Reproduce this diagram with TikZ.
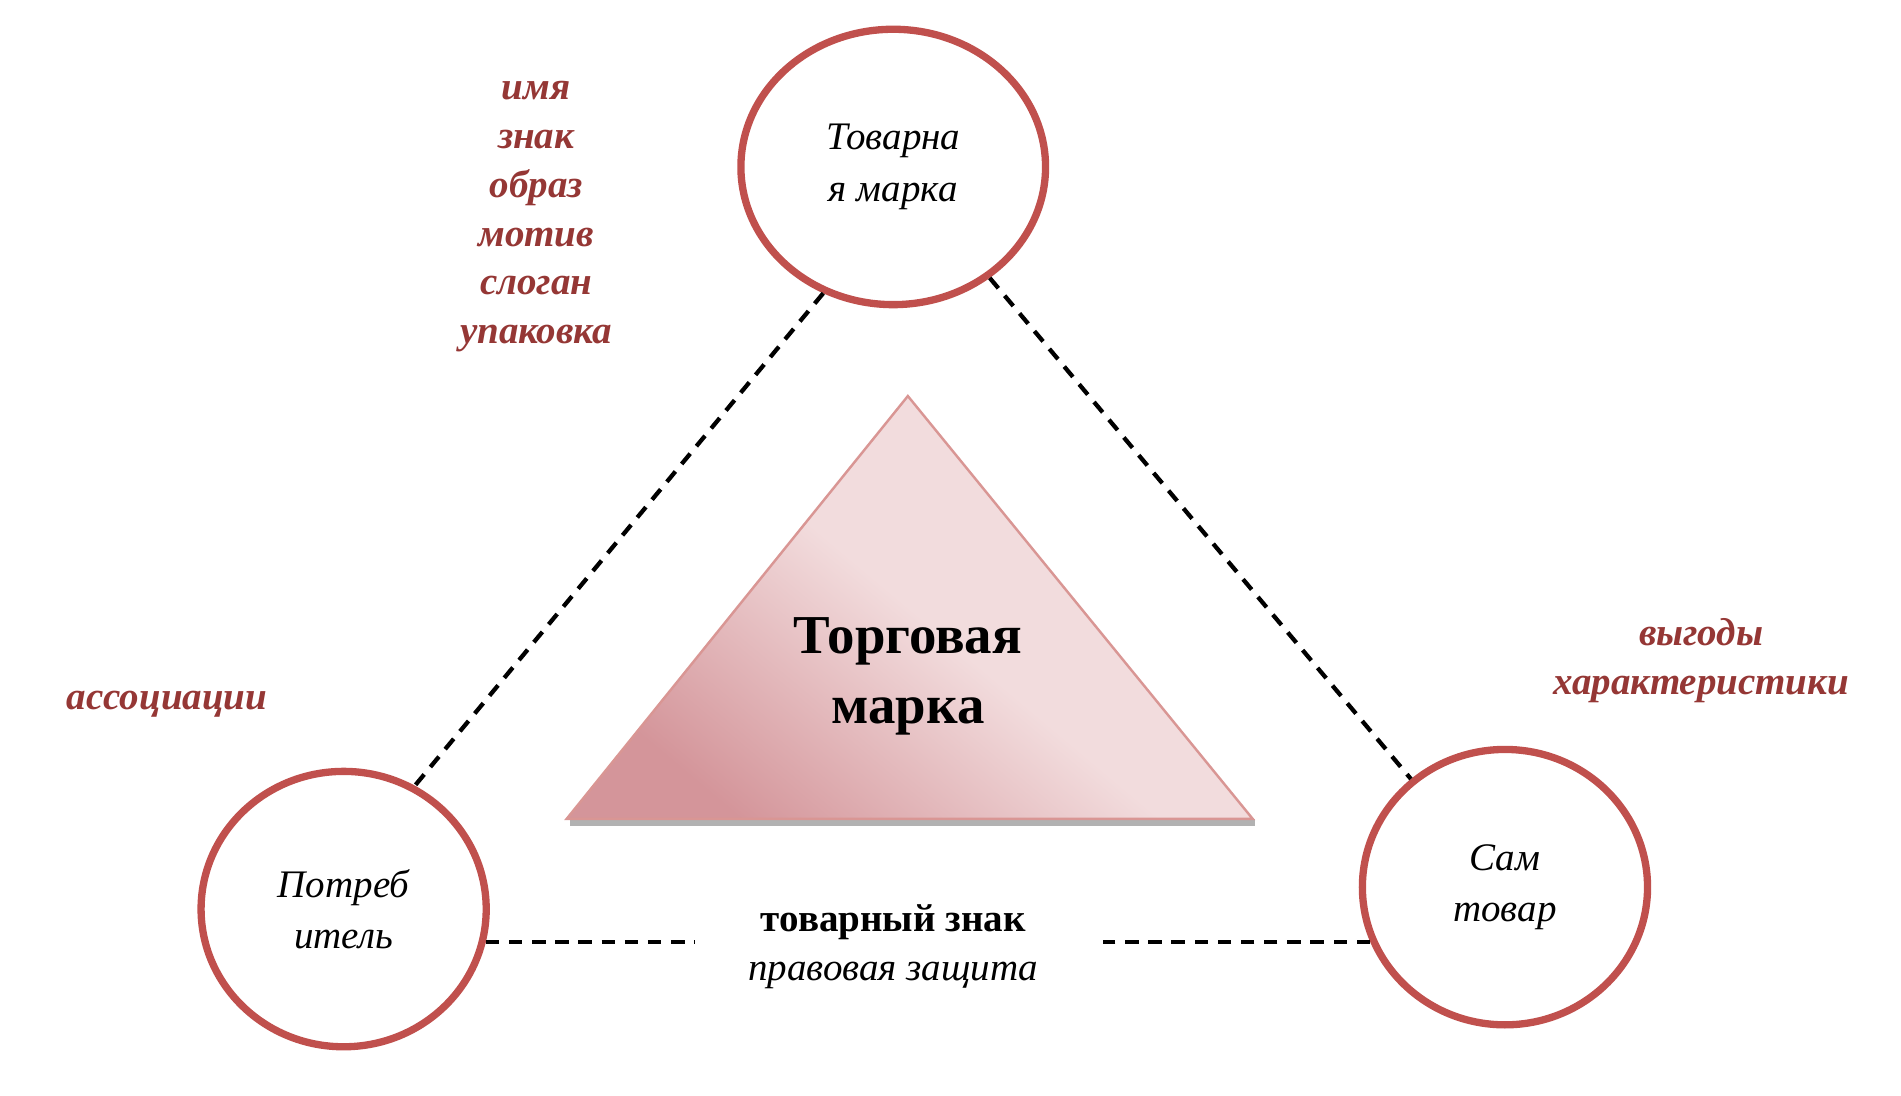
\documentclass[tikz,border=0pt]{standalone}
\usepackage{fontspec}
\setmainfont{Liberation Serif}
\usetikzlibrary{shapes.geometric}
\definecolor{ring}{HTML}{C0504D}
\definecolor{lab}{HTML}{953735}
\definecolor{tri}{HTML}{D99694}
\definecolor{trid}{HTML}{D4959A}
\definecolor{tril}{HTML}{F2DCDD}
\begin{document}
\begin{tikzpicture}[x=1pt,y=-1pt,
  ring/.style={draw=ring,line width=6pt,ellipse,inner sep=0pt,font=\itshape\fontsize{32}{42}\selectfont,align=center},
  lab/.style={text=lab,font=\bfseries\itshape\fontsize{32}{40}\selectfont,align=center},
  dl/.style={dashed,line width=3.5pt,dash pattern=on 11pt off 8pt}]
\useasboundingbox (0,0) rectangle (1560,899);
\node[ring,minimum width=250pt,minimum height=226pt] (top) at (733,137) {Товарна\\я марка};
\node[ring,minimum width=234pt,minimum height=226pt] (left) at (282,746) {Потреб\\итель};
\node[ring,minimum width=234pt,minimum height=226pt] (right) at (1235,728) {Сам\\товар};
\fill[gray!60] (468,672) -- (1030,672) -- (1030,678) -- (468,678) -- cycle;
\shade[shading=axis, top color=tril, bottom color=trid, middle color=tril, shading angle=-40, draw=tri, line width=2pt] (745,325) -- (1028,672) -- (465,672) -- cycle;
\node[font=\bfseries\fontsize{45}{58}\selectfont,align=center] (tm) at (745,555) {Торговая\\марка};
\node[lab] (list) at (440,178) {имя\\знак\\образ\\мотив\\слоган\\упаковка};
\node[lab] (assoc) at (137,578) {ассоциации};
\node[lab] (vyg) at (1396,542) {выгоды\\характеристики};
\node[align=center,font=\fontsize{32}{40}\selectfont,inner xsep=0pt] (bl) at (733,777) {\textbf{товарный знак}\\\textit{правовая защита}};
\draw[dl] (top.241) -- (left.60);
\draw[dl] (top.311) -- (right.131);
\draw[dl] (left.347) -- (left.347 -| 570,0);
\draw[dl] (right.202) -- (right.202 -| 905,0);
\end{tikzpicture}
\end{document}
